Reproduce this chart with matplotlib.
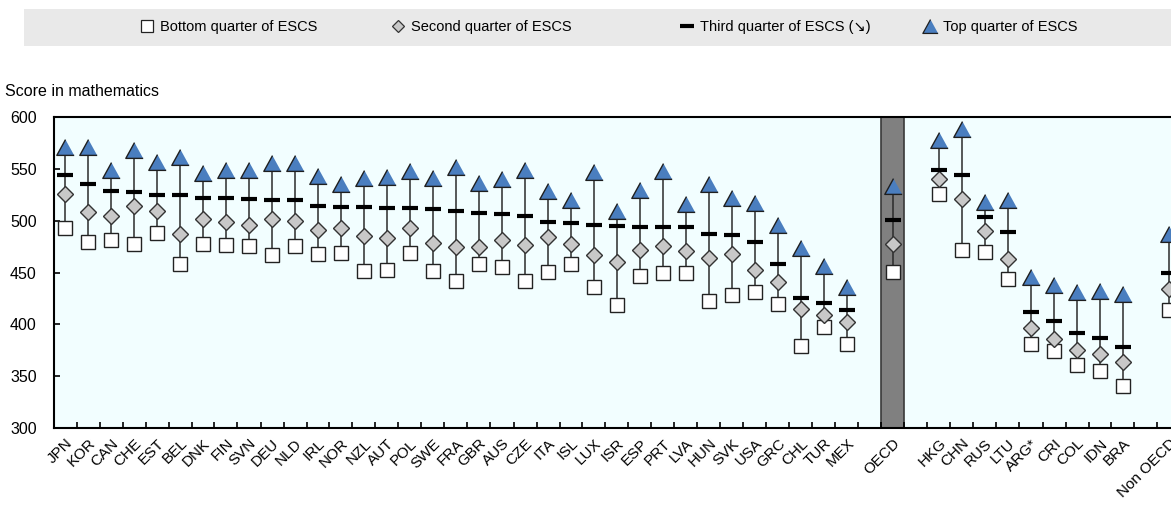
import numpy as np
import matplotlib.pyplot as plt
from matplotlib.lines import Line2D
from matplotlib.patches import Rectangle

plt.rcParams['font.family'] = ['Liberation Sans', 'DejaVu Sans']

# mean maths score by quarter of ESCS
oecd_countries = ['JPN', 'KOR', 'CAN', 'CHE', 'EST', 'BEL', 'DNK', 'FIN', 'SVN', 'DEU',
                  'NLD', 'IRL', 'NOR', 'NZL', 'AUT', 'POL', 'SWE', 'FRA', 'GBR', 'AUS',
                  'CZE', 'ITA', 'ISL', 'LUX', 'ISR', 'ESP', 'PRT', 'LVA', 'HUN', 'SVK',
                  'USA', 'GRC', 'CHL', 'TUR', 'MEX']
oecd_bottom = [493, 480, 482, 478, 488, 458, 478, 477, 476, 467, 476, 468, 469, 452, 453,
               469, 452, 442, 458, 455, 442, 451, 458, 436, 419, 447, 450, 450, 423, 428,
               431, 420, 379, 398, 381]
oecd_second = [526, 509, 505, 514, 510, 487, 502, 499, 496, 502, 500, 491, 493, 485, 483,
               493, 479, 475, 475, 482, 477, 484, 478, 467, 460, 472, 476, 471, 464, 468,
               453, 441, 415, 409, 402]
oecd_third = [544, 536, 529, 528, 525, 525, 522, 522, 521, 520, 520, 514, 513, 513, 512,
              512, 511, 510, 508, 507, 505, 499, 498, 496, 495, 494, 494, 494, 487, 486,
              480, 458, 426, 421, 414]
oecd_top = [571, 571, 549, 568, 557, 562, 546, 549, 549, 556, 556, 543, 536, 541, 542,
            548, 541, 552, 537, 540, 549, 529, 520, 547, 510, 530, 548, 516, 536, 522,
            517, 496, 474, 456, 436]

oecd_avg = [451, 478, 501, 534]  # bottom, second, third, top

partner_countries = ['HKG', 'CHN', 'RUS', 'LTU', 'ARG*', 'CRI', 'COL', 'IDN', 'BRA']
partner_bottom = [526, 472, 470, 444, 381, 374, 361, 355, 341]
partner_second = [540, 521, 490, 463, 397, 386, 375, 371, 364]
partner_third = [549, 544, 504, 489, 412, 403, 392, 387, 378]
partner_top = [578, 589, 518, 520, 446, 438, 431, 432, 429]

non_oecd_avg = [414, 434, 450, 487]

# one empty slot between the groups
labels = oecd_countries + ['', 'OECD', ''] + partner_countries + ['', 'Non OECD']
nan = np.nan
bottom = oecd_bottom + [nan, oecd_avg[0], nan] + partner_bottom + [nan, non_oecd_avg[0]]
second = oecd_second + [nan, oecd_avg[1], nan] + partner_second + [nan, non_oecd_avg[1]]
third = oecd_third + [nan, oecd_avg[2], nan] + partner_third + [nan, non_oecd_avg[2]]
top = oecd_top + [nan, oecd_avg[3], nan] + partner_top + [nan, non_oecd_avg[3]]
x = np.arange(len(labels))
vals = np.array([bottom, second, third, top], dtype=float)

fig = plt.figure(figsize=(11.71, 5.09), dpi=100)
ax = fig.add_axes([53.5 / 1171, 1 - 428 / 509, 1127 / 1171, 310.7 / 509])
ax.set_facecolor('#F2FEFF')

# OECD average column
i_oecd = labels.index('OECD')
ax.axvspan(i_oecd - 0.5, i_oecd + 0.5, facecolor='#808080', edgecolor='#3a3a3a', lw=1.2, zorder=1)

ok = ~np.isnan(vals[0])
ax.vlines(x[ok], np.nanmin(vals, axis=0)[ok], np.nanmax(vals, axis=0)[ok],
          color='#2b2b2b', lw=1.1, zorder=2)

tri = [(0, 1), (-1.1, -1), (1.1, -1)]
ax.plot(x, bottom, ls='none', marker='s', ms=10, mfc='white', mec='#222222', mew=1.0, zorder=3)
ax.plot(x, second, ls='none', marker='D', ms=7.8, mfc='#C8C8C8', mec='#333333', mew=1.0, zorder=3)
ax.plot(x, third, ls='none', marker='_', ms=12, mec='black', mew=3.0, zorder=4)
ax.plot(x, top, ls='none', marker=tri, ms=12.5, mfc='#4A7EBF', mec='#1f1f1f', mew=1.0, zorder=3)

ax.set_xlim(-0.5, len(labels) - 0.5)
ax.set_ylim(300, 600)
ax.set_yticks(np.arange(300, 601, 50))
ax.set_xticks(x)
ax.set_xticklabels(labels, rotation=45, ha='right', va='top', rotation_mode='anchor', fontsize=11)
ax.set_xticks(np.arange(-0.5, len(labels)), minor=True)
ax.tick_params(axis='x', which='major', length=0, pad=6)
ax.tick_params(axis='x', which='minor', direction='in', length=4, width=1.2)
ax.tick_params(axis='y', direction='in', length=4, width=1.2, labelsize=11.5, pad=12)
for s in ax.spines.values():
    s.set_linewidth(1.5)
    s.set_color('black')

fig.text(5 / 1171, 1 - 91 / 509, 'Score in mathematics', fontsize=11.5, va='center', ha='left')

# legend on a grey band, one entry per slot
fig.patches.append(Rectangle((24 / 1171, 1 - 45.7 / 509), 1.0, 36.7 / 509,
                             transform=fig.transFigure, facecolor='#E9E9E9', edgecolor='none'))
handles = [
    Line2D([], [], ls='none', marker='s', ms=8.5, mfc='white', mec='#222222', mew=0.9),
    Line2D([], [], ls='none', marker='D', ms=6.5, mfc='#C8C8C8', mec='#333333', mew=0.9),
    Line2D([], [], ls='none', marker='_', ms=10, mec='black', mew=3.0),
    Line2D([], [], ls='none', marker=tri, ms=11, mfc='#4A7EBF', mec='#1f1f1f', mew=0.9),
]
names = ['Bottom quarter of ESCS', 'Second quarter of ESCS',
         'Third quarter of ESCS (\u2198)', 'Top quarter of ESCS']
slots = [140, 391, 680, 923]
for h, name, left in zip(handles, names, slots):
    fig.legend([h], [name], loc='center left', bbox_to_anchor=(left / 1171, 1 - 27 / 509),
               frameon=False, fontsize=10.5, handlelength=1.0, handletextpad=0.4,
               borderaxespad=0, borderpad=0)

fig.savefig('out.png', dpi=100)
